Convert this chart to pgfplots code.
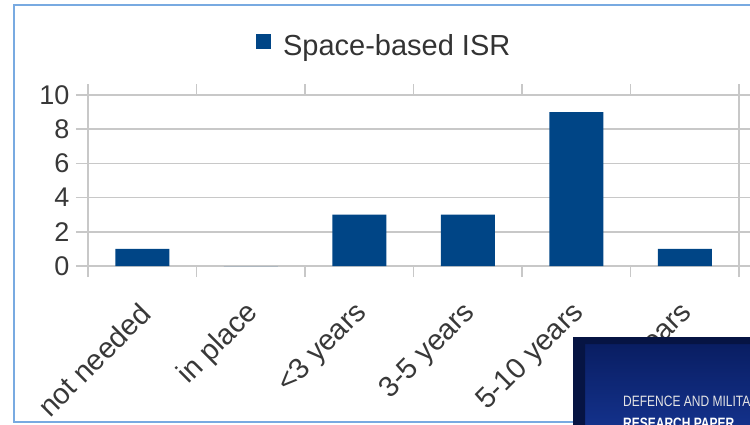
\documentclass[border=0pt]{standalone}
\usepackage{pgfplots}
\pgfplotsset{compat=1.18}
\usepackage{fontspec}
\setmainfont{Liberation Sans}
\definecolor{barblue}{RGB}{0,69,134}
\definecolor{framebl}{RGB}{120,170,225}
\definecolor{gridg}{RGB}{200,200,200}
\definecolor{navyA}{RGB}{8,28,95}
\definecolor{navyB}{RGB}{20,50,140}
\begin{document}
\begin{tikzpicture}[x=1pt,y=1pt]
\useasboundingbox (0,0) rectangle (750,424);
\begin{scope}
\clip (0,0) rectangle (750,424);
\draw[framebl,line width=2pt] (760,2.5) -- (13.5,2.5) -- (13.5,418.5) -- (760,418.5);
\begin{axis}[
  at={(88pt,158pt)}, anchor=south west,
  scale only axis, width=651pt, height=171pt,
  xmin=-0.5, xmax=5.5, ymin=0, ymax=10,
  ytick={0,2,4,6,8,10},
  xtick={0,1,2,3,4,5},
  xticklabels={not needed,in place,<3 years,3-5 years,5-10 years,>10 years},
  minor xtick={-0.5,0.5,1.5,2.5,3.5,4.5,5.5},
  tick align=outside,
  major tick length=12pt, minor tick length=11pt,
  major x tick style={draw=none},
  every tick/.style={gridg,line width=1.5pt},
  every minor tick/.style={gridg,line width=1.5pt},
  ymajorgrids,
  grid style={gridg,line width=1.5pt},
  axis line style={gridg,line width=1.5pt},
  tick label style={text=black!78},
  yticklabel style={font=\fontsize{27}{30}\selectfont, xshift=-3pt},
  xticklabel style={font=\fontsize{29}{32}\selectfont, rotate=45, anchor=east, yshift=-24pt, xshift=-16pt},
  /pgf/number format/assume math mode=true,
  legend style={at={(0.455,1.29)}, anchor=center, draw=none, fill=none,
    font=\fontsize{29}{32}\selectfont, text=black!80},
  legend image code/.code={\fill[barblue] (0pt,-4pt) rectangle (15pt,11pt);},
  legend cell align=left,
  legend style={/tikz/every even column/.append style={column sep=6pt}},
]
\addplot[ybar, bar width=54pt, fill=barblue, draw=none] coordinates {
(0,1) (1,0) (2,3) (3,3) (4,9) (5,1)};
\addlegendentry{\hspace{10pt}Space-based ISR}
\end{axis}
\shade[top color=navyA, bottom color=navyB] (573,-5) rectangle (760,87);
\fill[navyA!70!black] (573,87) -- (760,87) -- (760,80) -- (585,80) -- (585,-5) -- (573,-5) -- cycle;
\node[anchor=base west, text=white!80!gray, font=\fontsize{15}{16}\selectfont, inner sep=0pt] at (623,18) {\scalebox{0.8}[1]{DEFENCE AND MILITARY}};
\node[anchor=base west, text=white, font=\bfseries\fontsize{15}{16}\selectfont, inner sep=0pt] at (623,-4) {\scalebox{0.8}[1]{RESEARCH PAPER}};
\end{scope}
\end{tikzpicture}
\end{document}
